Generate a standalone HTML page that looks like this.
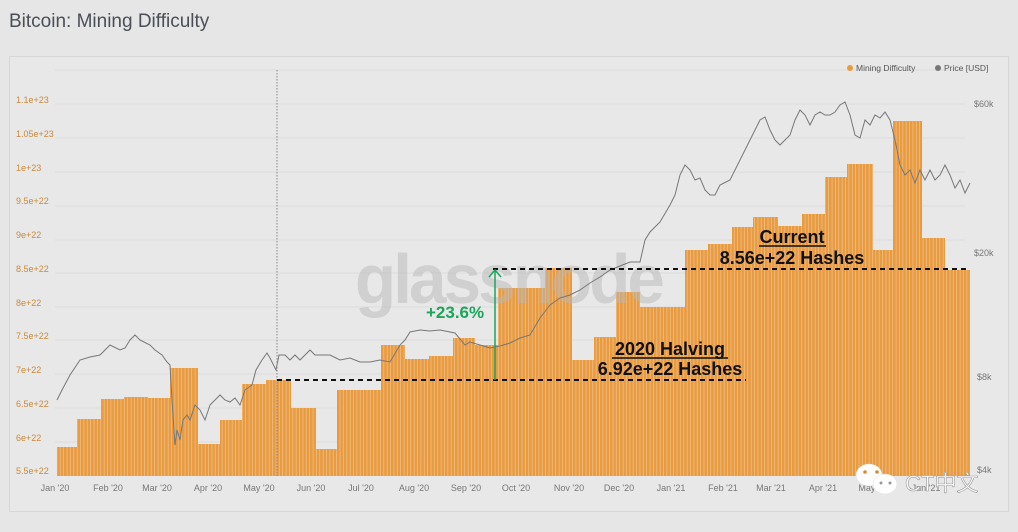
<!DOCTYPE html>
<html><head><meta charset="utf-8"><style>
body{margin:0;background:#e6e6e6;width:1018px;height:527px;overflow:hidden;font-family:"Liberation Sans",sans-serif}
</style></head><body>
<svg width="1018" height="527" xmlns="http://www.w3.org/2000/svg" font-family="Liberation Sans, sans-serif">
<defs>
<pattern id="st" width="3.37" height="10" patternUnits="userSpaceOnUse">
<rect width="3.37" height="10" fill="#e89b41"/><rect x="2.7" width="0.67" height="10" fill="#f2c58f"/>
</pattern>
</defs>
<text x="9" y="27" font-size="19" fill="#4a4f57">Bitcoin: Mining Difficulty</text>
<rect x="9.5" y="56.5" width="999" height="455" fill="#e8e8e8" stroke="#d6d6d6"/>
<g stroke="#dcdcdc" stroke-width="1">
<line x1="55" x2="965" y1="70" y2="70"/><line x1="55" x2="965" y1="104" y2="104"/><line x1="55" x2="965" y1="138" y2="138"/><line x1="55" x2="965" y1="172" y2="172"/><line x1="55" x2="965" y1="206" y2="206"/><line x1="55" x2="965" y1="240" y2="240"/><line x1="55" x2="965" y1="273" y2="273"/><line x1="55" x2="965" y1="307" y2="307"/><line x1="55" x2="965" y1="340" y2="340"/><line x1="55" x2="965" y1="374" y2="374"/><line x1="55" x2="965" y1="408" y2="408"/><line x1="55" x2="965" y1="442" y2="442"/>
</g>
<g font-size="9" fill="#c98a3c">
<text x="16" y="103">1.1e+23</text><text x="16" y="137">1.05e+23</text><text x="16" y="171">1e+23</text><text x="16" y="204">9.5e+22</text><text x="16" y="238">9e+22</text><text x="16" y="272">8.5e+22</text><text x="16" y="306">8e+22</text><text x="16" y="339">7.5e+22</text><text x="16" y="373">7e+22</text><text x="16" y="407">6.5e+22</text><text x="16" y="441">6e+22</text><text x="16" y="474">5.5e+22</text>
</g>
<g font-size="9" fill="#777">
<text x="974" y="107">$60k</text><text x="974" y="256">$20k</text><text x="977" y="380">$8k</text><text x="977" y="473">$4k</text>
</g>
<g font-size="9" fill="#777" text-anchor="middle">
<text x="55" y="491">Jan '20</text><text x="108" y="491">Feb '20</text><text x="157" y="491">Mar '20</text><text x="208" y="491">Apr '20</text><text x="259" y="491">May '20</text><text x="311" y="491">Jun '20</text><text x="361" y="491">Jul '20</text><text x="414" y="491">Aug '20</text><text x="466" y="491">Sep '20</text><text x="516" y="491">Oct '20</text><text x="569" y="491">Nov '20</text><text x="619" y="491">Dec '20</text><text x="671" y="491">Jan '21</text><text x="723" y="491">Feb '21</text><text x="771" y="491">Mar '21</text><text x="823" y="491">Apr '21</text><text x="874" y="491">May '21</text><text x="926" y="491">Jun '21</text>
</g>
<circle cx="850" cy="68" r="3" fill="#e89b41"/><text x="856" y="71" font-size="8.5" fill="#555">Mining Difficulty</text>
<circle cx="938" cy="68" r="3" fill="#777"/><text x="944" y="71" font-size="8.5" fill="#555">Price [USD]</text>
<g fill="url(#st)">
<rect x="57" y="447" width="20" height="29"/><rect x="77" y="419" width="24" height="57"/><rect x="101" y="399" width="23" height="77"/><rect x="124" y="397" width="24" height="79"/><rect x="148" y="398" width="22" height="78"/><rect x="170" y="368" width="28" height="108"/><rect x="198" y="444" width="22" height="32"/><rect x="220" y="420" width="22" height="56"/><rect x="242" y="384" width="24" height="92"/><rect x="266" y="380" width="25" height="96"/><rect x="291" y="408" width="25" height="68"/><rect x="316" y="449" width="21" height="27"/><rect x="337" y="390" width="44" height="86"/><rect x="381" y="345" width="24" height="131"/><rect x="405" y="359" width="24" height="117"/><rect x="429" y="356" width="24" height="120"/><rect x="453" y="338" width="22" height="138"/><rect x="475" y="345" width="23" height="131"/><rect x="498" y="288" width="47" height="188"/><rect x="545" y="268" width="27" height="208"/><rect x="572" y="360" width="22" height="116"/><rect x="594" y="337" width="22" height="139"/><rect x="616" y="292" width="24" height="184"/><rect x="640" y="307" width="45" height="169"/><rect x="685" y="250" width="23" height="226"/><rect x="708" y="244" width="24" height="232"/><rect x="732" y="227" width="21" height="249"/><rect x="753" y="217" width="25" height="259"/><rect x="778" y="226" width="24" height="250"/><rect x="802" y="214" width="23" height="262"/><rect x="825" y="177" width="22" height="299"/><rect x="847" y="164" width="26" height="312"/><rect x="873" y="250" width="20" height="226"/><rect x="893" y="121" width="29" height="355"/><rect x="922" y="238" width="23" height="238"/><rect x="945" y="270" width="25" height="206"/>
</g>
<text x="355" y="303" font-size="70" fill="#b8b8b8" fill-opacity="0.5" font-weight="bold" letter-spacing="-3" textLength="307" lengthAdjust="spacingAndGlyphs">glassnode</text>
<polyline fill="none" stroke="#777" stroke-width="1" points="57,400 62,390 70,375 80,360 90,357 100,355 110,345 120,350 125,348 130,340 135,335 140,340 150,345 155,350 162,355 167,362 170,365 172,400 175,445 177,430 180,440 183,420 187,415 190,420 195,405 200,410 205,420 210,405 215,400 220,395 225,400 230,402 235,398 240,405 245,390 252,385 256,370 262,360 267,353 270,358 276,370 279,355 285,355 290,360 295,355 300,360 310,350 315,355 320,355 330,355 340,360 350,358 360,362 370,362 380,360 390,362 400,345 405,340 410,332 420,330 430,331 440,330 455,333 465,345 470,342 480,345 490,348 500,346 510,343 520,338 530,335 540,318 550,305 560,298 570,295 580,290 590,283 600,277 610,270 620,266 630,262 640,262 645,240 650,232 660,222 670,205 675,195 680,175 685,165 690,170 695,180 700,178 705,190 710,195 715,195 720,185 730,180 740,160 750,140 755,130 760,120 765,117 770,130 775,140 780,145 785,140 790,135 795,120 800,110 805,115 810,125 815,115 820,112 825,115 830,115 835,112 840,105 845,102 850,115 855,135 860,138 865,120 870,125 875,115 880,118 885,112 890,120 895,140 900,165 905,175 910,170 915,183 920,170 925,180 930,170 935,180 940,175 945,165 950,175 955,188 960,180 965,193 970,183"/>
<line x1="277" y1="70" x2="277" y2="476" stroke="#888" stroke-dasharray="1.5,1.5"/>
<line x1="277" y1="380" x2="746" y2="380" stroke="#111" stroke-width="2" stroke-dasharray="5,4"/>
<line x1="493" y1="269" x2="970" y2="269" stroke="#111" stroke-width="2" stroke-dasharray="5,4"/>
<line x1="495" y1="380" x2="495" y2="271" stroke="#1aa65a" stroke-width="1.5"/>
<polyline points="489,277 495,270 501,277" fill="none" stroke="#1aa65a" stroke-width="1.5"/>
<text x="426" y="318" font-size="17" font-weight="bold" fill="#1aa65a">+23.6%</text>
<g font-size="18" font-weight="bold" fill="#111" text-anchor="middle">
<text x="670" y="355">2020 Halving</text><text x="670" y="375">6.92e+22 Hashes</text>
<text x="792" y="243">Current</text><text x="792" y="264">8.56e+22 Hashes</text>
</g>
<line x1="612" y1="358" x2="728" y2="358" stroke="#111" stroke-width="1.5"/>
<line x1="759" y1="246" x2="826" y2="246" stroke="#111" stroke-width="1.5"/>
<g fill="#fff" stroke="#ddd" stroke-width="0.5">
<ellipse cx="869" cy="475" rx="13" ry="11"/><ellipse cx="885" cy="484" rx="12" ry="10"/>
</g>
<circle cx="865" cy="472" r="1.8" fill="#d88a30"/><circle cx="877" cy="472" r="1.8" fill="#d88a30"/>
<circle cx="881" cy="483" r="1.5" fill="#999"/><circle cx="890" cy="483" r="1.5" fill="#999"/>
<text x="905" y="491" font-size="22" fill="#fff" stroke="#999" stroke-width="0.6" font-family="Liberation Sans, Noto Sans CJK SC, sans-serif">CT中文</text>
</svg>
</body></html>
